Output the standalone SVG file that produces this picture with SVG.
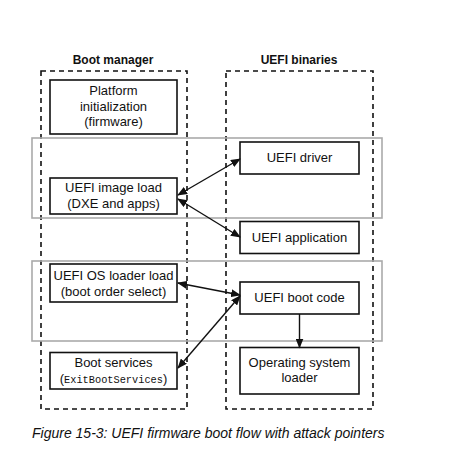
<svg xmlns="http://www.w3.org/2000/svg" width="468" height="452" viewBox="0 0 468 452">
<defs>
<style>
.cont{fill:none;stroke:#111;stroke-width:1.6;stroke-dasharray:5,4}
.zone{fill:none;stroke:#aaa;stroke-width:1.6}
.box{fill:#fff;stroke:#111;stroke-width:1.6}
.t{font-family:"Liberation Sans",Arial,sans-serif;font-size:13px;fill:#111;text-anchor:middle}
.h{font-family:"Liberation Sans",Arial,sans-serif;font-size:12px;font-weight:bold;fill:#111;text-anchor:middle}
.m{font-family:"Liberation Mono","Courier New",monospace;font-size:10.3px}
.cap{font-family:"Liberation Sans",Arial,sans-serif;font-size:14px;font-style:italic;fill:#111}
.c{fill:none;stroke:#111;stroke-width:1.4}
</style>
<marker id="ah" markerWidth="10" markerHeight="8" refX="9" refY="4" orient="auto-start-reverse" markerUnits="userSpaceOnUse">
<path d="M0,0 L10,4 L0,8 Z" fill="#111"/>
</marker>
</defs>
<rect width="468" height="452" fill="#fff"/>
<g id="boot-manager">
<rect class="cont" x="41" y="71" width="146" height="338"/>
<text class="h" x="113" y="64">Boot manager</text>
</g>
<g id="uefi-binaries">
<rect class="cont" x="226" y="71" width="147" height="338"/>
<text class="h" x="299" y="64">UEFI binaries</text>
</g>
<g id="zone-dxe"><rect class="zone" x="32" y="138" width="350" height="80"/></g>
<g id="zone-os"><rect class="zone" x="32" y="261" width="350" height="80"/></g>
<g id="platform-init">
<rect class="box" x="50" y="80" width="127" height="54"/>
<text class="t" x="113.5" y="95">Platform</text>
<text class="t" x="113.5" y="110.5">initialization</text>
<text class="t" x="113.5" y="126">(firmware)</text>
</g>
<g id="image-load">
<rect class="box" x="50" y="178" width="127" height="36"/>
<text class="t" x="113.5" y="192">UEFI image load</text>
<text class="t" x="113.5" y="207.5">(DXE and apps)</text>
</g>
<g id="os-loader-load">
<rect class="box" x="50" y="264" width="127" height="38"/>
<text class="t" x="113.5" y="279.5">UEFI OS loader load</text>
<text class="t" x="113.5" y="295.5">(boot order select)</text>
</g>
<g id="boot-services">
<rect class="box" x="50" y="352.5" width="127" height="36.5"/>
<text class="t" x="113.5" y="367">Boot services</text>
<text class="t" x="113.5" y="382.5">(<tspan class="m">ExitBootServices</tspan>)</text>
</g>
<g id="uefi-driver">
<rect class="box" x="240" y="142" width="119" height="32"/>
<text class="t" x="299.5" y="162">UEFI driver</text>
</g>
<g id="uefi-application">
<rect class="box" x="240" y="221.5" width="119" height="32"/>
<text class="t" x="299.5" y="242">UEFI application</text>
</g>
<g id="uefi-boot-code">
<rect class="box" x="240" y="282" width="119" height="32"/>
<text class="t" x="299.5" y="302">UEFI boot code</text>
</g>
<g id="os-loader">
<rect class="box" x="240" y="347.5" width="119" height="46.5"/>
<text class="t" x="299.5" y="367">Operating system</text>
<text class="t" x="299.5" y="382">loader</text>
</g>
<g id="connectors">
<line class="c" x1="178" y1="195" x2="240" y2="159" marker-start="url(#ah)" marker-end="url(#ah)"/>
<line class="c" x1="178" y1="199" x2="240" y2="237" marker-start="url(#ah)" marker-end="url(#ah)"/>
<line class="c" x1="178" y1="283" x2="240" y2="295" marker-start="url(#ah)" marker-end="url(#ah)"/>
<line class="c" x1="178" y1="368" x2="240" y2="296" marker-start="url(#ah)" marker-end="url(#ah)"/>
<line class="c" x1="299.5" y1="314" x2="299.5" y2="347.5" marker-end="url(#ah)"/>
</g>
<text class="cap" x="32" y="438">Figure 15-3: UEFI firmware boot flow with attack pointers</text>
</svg>
